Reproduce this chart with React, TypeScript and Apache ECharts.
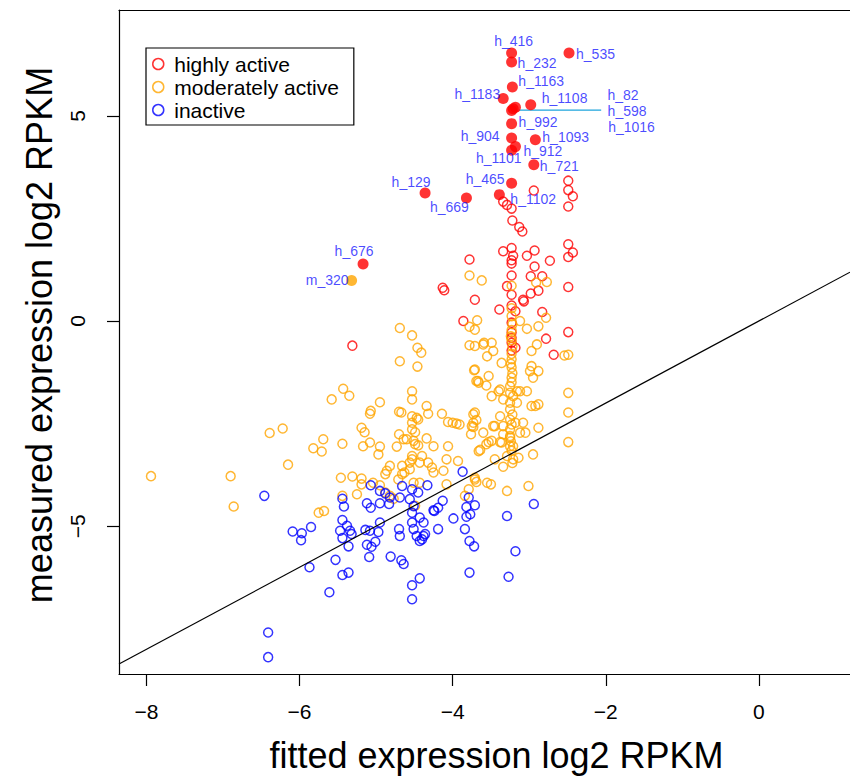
import React, { useEffect, useRef } from "react";
import * as echarts from "echarts";

const FONT = '"Liberation Sans", Arial, Helvetica, sans-serif';

// ---- axes ----
const xTicks = [-8, -6, -4, -2, 0];
const yTicks = [-5, 0, 5];
const xRange = [-8.358, 1.19];
const yRange = [-8.601, 7.579];
const xTitle = "fitted expression log2 RPKM";
const yTitle = "measured expression log2 RPKM";
const groupNames = ["highly active", "moderately active", "inactive"];

// ---- hollow points (fitted, measured) ----
const highlyActive: [number, number][] = [
  [-2.94, 3.18], [-2.49, 3.42], [-2.49, 3.19], [-2.43, 3.04], [-2.49, 2.79], [-3.34, 2.91],
  [-3.29, 2.83], [-3.23, 2.74], [-3.22, 2.45], [-3.13, 2.29], [-3.09, 2.18], [-2.49, 1.87],
  [-2.43, 1.67], [-2.49, 1.56], [-3.34, 1.70], [-3.23, 1.78], [-3.21, 1.59], [-3.23, 1.48],
  [-3.03, 1.59], [-2.93, 1.72], [-2.73, 1.47], [-3.78, 1.50], [-2.93, 1.33], [-3.23, 1.40],
  [-3.23, 1.11], [-2.98, 1.09], [-2.83, 1.09], [-2.88, 0.74], [-2.98, 0.67], [-4.13, 0.81],
  [-4.11, 0.75], [-3.29, 0.85], [-3.23, 0.64], [-2.49, 0.83], [-3.71, 0.52], [-3.08, 0.52],
  [-3.07, 0.48], [-3.23, 0.38], [-3.39, 0.28], [-3.18, 0.24], [-2.83, 0.22], [-3.86, 0.0],
  [-3.23, -0.04], [-3.23, -0.28], [-2.49, -0.27], [-2.78, -0.43], [-3.23, -0.53], [-3.18, -0.65],
  [-3.23, -0.72], [-2.68, -0.82], [-3.23, -0.41], [-5.31, -0.6],
];

const moderatelyActive: [number, number][] = [
  [-7.94, -3.78], [-6.9, -3.78], [-6.86, -4.52], [-6.39, -2.73], [-6.22, -2.62], [-6.15, -3.5],
  [-5.82, -3.1], [-5.71, -3.18], [-5.69, -2.88], [-5.75, -4.67], [-5.68, -4.63], [-5.43, -1.65],
  [-5.35, -1.82], [-5.58, -1.91], [-5.44, -2.99], [-5.46, -3.82], [-5.31, -3.79], [-5.19, -3.84],
  [-5.25, -4.22], [-5.19, -3.98], [-5.44, -4.26], [-5.08, -2.26], [-5.07, -2.19], [-4.95, -1.98],
  [-5.19, -2.6], [-5.15, -2.71], [-5.08, -2.96], [-4.95, -3.06], [-4.97, -3.25], [-5.17, -3.05],
  [-4.69, -0.98], [-4.46, -1.11], [-4.69, -0.17], [-4.53, -0.35], [-4.46, -0.65], [-4.41, -0.77],
  [-4.53, -1.71], [-4.53, -1.91], [-4.7, -2.21], [-4.67, -2.23], [-4.34, -2.07], [-4.32, -2.26],
  [-4.14, -2.26], [-4.53, -2.48], [-4.53, -2.64], [-4.47, -2.36], [-4.45, -2.4], [-4.7, -2.76],
  [-4.64, -2.88], [-4.51, -2.92], [-4.34, -2.86], [-4.25, -3.05], [-4.73, -3.06], [-4.45, -3.03],
  [-4.82, -3.53], [-4.86, -3.65], [-4.88, -3.73], [-4.66, -3.53], [-4.53, -3.29], [-4.56, -3.45],
  [-4.32, -3.45], [-4.27, -3.57], [-4.25, -3.69], [-4.12, -3.65], [-4.71, -3.86], [-4.66, -3.73],
  [-4.51, -3.94], [-4.43, -3.94], [-4.08, -3.37], [-4.08, -3.98], [-5.04, -3.94], [-4.95, -4.0],
  [-4.88, -4.18], [-4.82, -4.26], [-4.77, -4.33], [-4.49, -4.5], [-4.06, -2.46], [-4.0, -2.48],
  [-3.95, -2.5], [-3.91, -2.52], [-3.71, -2.23], [-3.69, -2.41], [-3.73, -2.58], [-3.76, -2.76],
  [-3.71, -3.82], [-3.69, -3.92], [-3.55, -3.94], [-3.66, -3.17], [-3.56, -3.0], [-3.93, -3.41],
  [-4.06, -3.05], [-4.53, -3.37], [-4.4, -3.29], [-4.43, -3.45], [-4.63, -3.69], [-4.56, -3.61],
  [-3.78, -0.59], [-3.71, -0.21], [-3.68, 0.02], [-3.78, -0.14], [-3.59, -0.53], [-3.55, -0.86],
  [-3.72, -1.2], [-3.67, -1.46], [-3.56, -1.57], [-3.53, -1.34], [-4.53, -2.32], [-4.49, -2.71],
  [-4.6, -2.88], [-4.49, -3.0], [-3.78, 1.11], [-3.62, 0.99], [-2.77, 0.95], [-2.91, 0.94],
  [-3.23, 0.86], [-3.12, 0.0], [-3.03, -0.19], [-2.78, 0.08], [-2.88, -0.13], [-2.9, -0.57],
  [-2.97, -0.73], [-3.49, -0.53], [-3.6, -0.57], [-3.47, -0.73], [-3.71, -0.61], [-3.36, -1.02],
  [-2.97, -1.1], [-2.99, -1.22], [-2.88, -1.22], [-2.95, -1.38], [-3.71, -1.18], [-3.69, -1.46],
  [-3.49, -1.83], [-3.38, -1.67], [-3.34, -1.91], [-3.16, -1.71], [-3.03, -1.71], [-2.97, -2.07],
  [-2.88, -2.03], [-2.49, -0.82], [-2.54, -0.84], [-2.49, -1.75], [-2.49, -2.23], [-2.49, -2.95],
  [-3.73, -2.27], [-3.38, -2.32], [-3.18, -2.48], [-3.08, -2.48], [-3.05, -2.72], [-2.88, -2.6],
  [-3.45, -2.56], [-3.34, -2.76], [-3.6, -2.72], [-3.73, -2.48], [-3.53, -2.95], [-3.38, -2.95],
  [-3.21, -3.05], [-3.25, -2.8], [-2.95, -3.25], [-3.01, -4.02], [-3.29, -4.14], [-3.5, -3.98],
  [-3.71, -3.86], [-3.79, -4.1], [-3.84, -4.26], [-3.75, -2.56], [-3.64, -3.14], [-3.49, -2.92],
  [-3.45, -3.37], [-3.34, -3.55], [-3.21, -3.37], [-3.14, -3.33], [-3.29, -3.29], [-3.47, -2.56],
  [-3.34, -2.56], [-2.92, -2.07], [-3.12, -2.72], [-3.66, -1.5], [-3.4, -1.71], [-3.25, -1.59],
  [-3.25, -1.75], [-3.25, -1.99], [-3.25, -2.15], [-3.25, -2.4], [-3.25, -2.64], [-3.25, -2.84],
  [-3.25, -3.05], [-3.21, -1.83], [-3.16, -1.99], [-3.12, -1.71], [-3.36, -2.96], [-3.23, 0.31],
  [-3.23, 0.12], [-3.22, -0.08], [-3.23, -0.22], [-3.24, -0.37], [-3.23, -0.47], [-3.22, -0.62],
  [-3.23, -0.8], [-3.23, -0.93], [-3.24, -1.04], [-3.23, -1.13], [-3.22, -1.27], [-3.23, -1.38],
  [-3.23, -1.49], [-3.22, -2.28], [-3.23, -2.52], [-3.24, -2.93], [-3.23, -3.16], [-3.22, -3.46],
];

const inactive: [number, number][] = [
  [-6.46, -4.26], [-6.09, -5.13], [-5.97, -5.17], [-5.98, -5.34], [-5.85, -5.02], [-5.87, -6.0],
  [-6.41, -7.59], [-6.41, -8.19], [-5.44, -4.33], [-5.42, -4.52], [-5.44, -4.85], [-5.47, -5.11],
  [-5.38, -4.99], [-5.34, -5.11], [-5.32, -5.19], [-5.44, -5.29], [-5.36, -5.49], [-5.53, -5.82],
  [-5.44, -6.19], [-5.36, -6.13], [-5.61, -6.61], [-5.07, -4.0], [-4.95, -4.14], [-4.88, -4.2],
  [-4.82, -4.3], [-5.12, -4.44], [-5.07, -4.55], [-4.95, -4.44], [-4.83, -4.46], [-4.95, -4.91],
  [-5.14, -5.09], [-5.08, -5.11], [-4.97, -5.14], [-5.12, -5.45], [-5.06, -5.5], [-5.01, -5.38],
  [-5.09, -5.75], [-4.81, -5.74], [-4.67, -5.83], [-4.64, -5.92], [-4.53, -6.44], [-4.43, -6.27],
  [-4.53, -6.78], [-4.69, -4.3], [-4.66, -4.02], [-4.53, -4.1], [-4.45, -4.18], [-4.33, -4.0],
  [-4.56, -4.34], [-4.51, -4.51], [-4.53, -4.67], [-4.43, -4.79], [-4.38, -4.91], [-4.53, -4.91],
  [-4.51, -5.07], [-4.47, -5.24], [-4.4, -5.32], [-4.36, -5.19], [-4.7, -5.07], [-4.69, -5.24],
  [-4.43, -5.36], [-4.24, -4.63], [-4.19, -4.55], [-4.13, -4.38], [-4.19, -5.07], [-3.87, -3.67],
  [-4.25, -4.61], [-3.99, -4.81], [-3.79, -4.3], [-3.82, -4.53], [-3.71, -4.49], [-3.77, -4.71],
  [-3.82, -4.77], [-3.84, -5.07], [-3.78, -5.36], [-3.72, -5.49], [-3.29, -4.75], [-2.94, -4.46],
  [-3.18, -5.61], [-3.78, -6.13], [-3.27, -6.23], [-4.38, -5.24],
];

// ---- named (filled) points ----
const namedHigh = [
  "h_416", "h_232", "h_535", "h_1163", "h_1183", "h_1108", "h_82", "h_598", "h_1016", "h_992",
  "h_904", "h_1093", "h_912", "h_1101", "h_721", "h_465", "h_1102", "h_129", "h_669", "h_676",
];
const namedHighX = [
  -3.23, -3.23, -2.48, -3.22, -3.34, -2.98, -3.18, -3.23, -3.21, -3.23,
  -3.23, -2.92, -3.18, -3.23, -2.94, -3.23, -3.39, -4.36, -3.82, -5.17,
];
const namedHighY = [
  6.53, 6.31, 6.53, 5.7, 5.42, 5.27, 5.21, 5.13, 5.17, 4.81,
  4.46, 4.42, 4.25, 4.16, 3.81, 3.36, 3.08, 3.12, 3.0, 1.39,
];
const namedModerate = ["m_320"];
const namedModerateX = [-5.32];
const namedModerateY = [0.99];

// reference line y = a + b x
const refIntercept = 0;
const refSlope = 1;
// leader line for the stacked labels (from, to)
const leaderX = [-3.14, -2.06];
const leaderY = [5.14, 5.14];

// ---- label layout (pixel offsets from the point centre) ----
const labelLayout: Record<string, { dx: number; dy: number; align: string }> = {
  h_416: { dx: 2, dy: -12, align: "center" },
  h_232: { dx: 6, dy: 1, align: "left" },
  h_535: { dx: 7, dy: 1, align: "left" },
  h_1163: { dx: 6, dy: -6, align: "left" },
  h_1183: { dx: -3, dy: -5, align: "right" },
  h_1108: { dx: 11, dy: -7, align: "left" },
  h_82: { dx: 92, dy: -12, align: "left" },
  h_598: { dx: 96, dy: 0, align: "left" },
  h_1016: { dx: 95, dy: 18, align: "left" },
  h_992: { dx: 7, dy: -2, align: "left" },
  h_904: { dx: -12, dy: -2, align: "right" },
  h_1093: { dx: 7, dy: -3, align: "left" },
  h_912: { dx: 8, dy: 4, align: "left" },
  h_1101: { dx: 10, dy: 8, align: "right" },
  h_721: { dx: 6, dy: 1, align: "left" },
  h_465: { dx: -7, dy: -4, align: "right" },
  h_1102: { dx: 11, dy: 4, align: "left" },
  h_129: { dx: -14, dy: -11, align: "center" },
  h_669: { dx: -17, dy: 9, align: "center" },
  h_676: { dx: -9, dy: -13, align: "center" },
  m_320: { dx: -3, dy: 0, align: "right" },
};

const RED = "#ff0000";
const ORANGE = "#ffa500";
const BLUE = "#0000ff";
const LABEL_BLUE = "#1a1aff";

const minus = (v: number) => (v < 0 ? "\u2212" + Math.abs(v) : String(v));

function namedData(names: string[], xs: number[], ys: number[]) {
  return names.map((n, i) => {
    const l = labelLayout[n];
    return {
      name: n,
      value: [xs[i], ys[i]],
      label: {
        show: true,
        formatter: n,
        position: "inside",
        offset: [l.dx, l.dy],
        align: l.align,
        verticalAlign: "middle",
        color: LABEL_BLUE,
        fontSize: 14,
        lineHeight: 14,
        fontFamily: FONT,
        textBorderWidth: 0,
      },
    };
  });
}

function hollow(name: string, color: string, data: [number, number][]) {
  return {
    name,
    type: "scatter",
    data,
    symbol: "circle",
    symbolSize: 9,
    itemStyle: { color: "rgba(0,0,0,0)", borderColor: color, borderWidth: 1.5 },
    emphasis: { disabled: true },
    z: 2,
  };
}

const boxLine = { show: true, onZero: false, lineStyle: { color: "#000", width: 1.2 } };

export default function App() {
  const ref = useRef<HTMLDivElement>(null);
  useEffect(() => {
    if (!ref.current) return;
    const chart = echarts.init(ref.current, undefined, { renderer: "svg" });
    const refLine = [
      [xRange[0], refIntercept + refSlope * xRange[0]],
      [xRange[1], refIntercept + refSlope * xRange[1]],
    ];
    const colors = [RED, ORANGE, BLUE];
    chart.setOption({
      animation: false,
      backgroundColor: "#ffffff",
      textStyle: { fontFamily: FONT },
      grid: { left: 119, top: 10, right: 0, bottom: 103, show: false },
      legend: {
        orient: "vertical",
        left: 146,
        top: 48,
        padding: [5, 15, 4, 6],
        itemGap: 1,
        itemWidth: 22,
        itemHeight: 11,
        borderColor: "#000",
        borderWidth: 1.2,
        selectedMode: false,
        textStyle: { fontSize: 21, color: "#000", lineHeight: 22, fontFamily: FONT },
        data: groupNames.map((n, i) => ({
          name: n,
          icon: "circle",
          itemStyle: { color: "rgba(0,0,0,0)", borderColor: colors[i], borderWidth: 1.5 },
        })),
      },
      xAxis: [
        {
          type: "value",
          min: xRange[0],
          max: xRange[1],
          name: xTitle,
          nameLocation: "middle",
          nameGap: 63,
          nameTextStyle: { fontSize: 36, color: "#000", fontFamily: FONT, padding: [0, 0, 0, 24] },
          axisLine: boxLine,
          splitLine: { show: false },
          axisTick: { show: true, length: 12, customValues: xTicks, lineStyle: { color: "#000", width: 1.2 } },
          axisLabel: {
            customValues: xTicks,
            formatter: (v: number) => minus(v),
            fontSize: 21,
            color: "#000",
            margin: 27,
            fontFamily: FONT,
          },
        },
        {
          type: "value",
          position: "top",
          min: xRange[0],
          max: xRange[1],
          axisLine: boxLine,
          axisTick: { show: false },
          axisLabel: { show: false },
          splitLine: { show: false },
        },
      ],
      yAxis: {
        type: "value",
        min: yRange[0],
        max: yRange[1],
        name: yTitle,
        nameLocation: "middle",
        nameGap: 62,
        nameTextStyle: { fontSize: 36, color: "#000", fontFamily: FONT, padding: [0, 0, 0, 14] },
        axisLine: boxLine,
        splitLine: { show: false },
        axisTick: { show: true, length: 12, customValues: yTicks, lineStyle: { color: "#000", width: 1.2 } },
        axisLabel: {
          customValues: yTicks,
          formatter: (v: number) => minus(v),
          rotate: 90,
          fontSize: 21,
          color: "#000",
          margin: 31,
          fontFamily: FONT,
        },
      },
      series: [
        hollow(groupNames[0], RED, highlyActive),
        hollow(groupNames[1], ORANGE, moderatelyActive),
        hollow(groupNames[2], BLUE, inactive),
        {
          name: "identity",
          type: "line",
          data: refLine,
          showSymbol: false,
          symbol: "none",
          lineStyle: { color: "#000", width: 1.2 },
          clip: true,
          z: 3,
          emphasis: { disabled: true },
        },
        {
          name: "leader",
          type: "line",
          data: leaderX.map((x, i) => [x, leaderY[i]]),
          showSymbol: false,
          symbol: "none",
          lineStyle: { color: "#1ea4dc", width: 1.3 },
          z: 3,
          emphasis: { disabled: true },
        },
        {
          name: "named highly active",
          type: "scatter",
          symbol: "circle",
          symbolSize: 11,
          itemStyle: { color: RED },
          data: namedData(namedHigh, namedHighX, namedHighY),
          z: 4,
          emphasis: { disabled: true },
        },
        {
          name: "named moderately active",
          type: "scatter",
          symbol: "circle",
          symbolSize: 11,
          itemStyle: { color: ORANGE },
          data: namedData(namedModerate, namedModerateX, namedModerateY),
          z: 4,
          emphasis: { disabled: true },
        },
      ],
    });
    return () => chart.dispose();
  }, []);
  return (
    <div
      ref={ref}
      style={{ position: "fixed", left: 0, top: 0, width: 850, height: 778, background: "#fff" }}
    />
  );
}
